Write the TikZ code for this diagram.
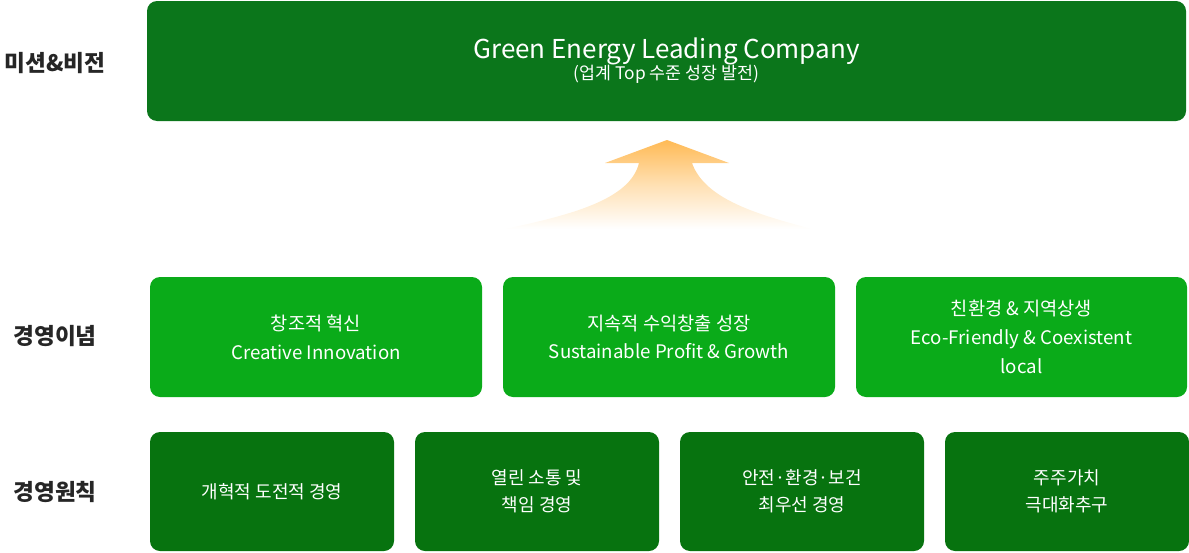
\documentclass[tikz,border=0pt]{standalone}
\usepackage{fontspec}
\setmainfont{Noto Sans CJK KR}
\begin{document}
\begin{tikzpicture}[x=0.75pt,y=-0.75pt,
  box/.style={rounded corners=7.5pt,text=white,align=center,inner sep=0pt},
  lab/.style={font=\bfseries\fontsize{17}{20}\selectfont,text=black!85,anchor=center}]
\definecolor{gtop}{HTML}{0B761B}
\definecolor{gmid}{HTML}{0AAB19}
\definecolor{gbot}{HTML}{07730F}
\definecolor{org}{HTML}{FFBA55}
\useasboundingbox (0,0) rectangle (1189,553);
\fill[gtop,rounded corners=7.5pt] (147,1) rectangle (1186,121);
\node[box] (top) at (666.5,61) {{\fontsize{19.5}{26}\selectfont Green Energy Leading Company}\\[-1pt]{\fontsize{13}{17}\selectfont (업계 Top 수준 성장 발전)}};
\shade[top color=org,bottom color=white,middle color=org!45]
  (667,140) -- (729,163) -- (692,163) .. controls (705,200) and (760,215) .. (812,229)
  -- (505,229) .. controls (570,215) and (630,200) .. (639,163) -- (605,163) -- cycle;
\node[lab] (l1) at (55,63) {미션\&비전};
\node[lab] (l2) at (55,336) {경영이념};
\node[lab] (l3) at (55,492) {경영원칙};
\tikzset{mt/.style={box,fill=gmid,minimum width=332*0.75pt,minimum height=120*0.75pt,font=\fontsize{14}{21.5}\selectfont}}
\node[mt] (m1) at (316,337) {창조적 혁신\\Creative Innovation};
\node[mt] (m2) at (669,337) {지속적 수익창출 성장\\Sustainable Profit \& Growth};
\node[mt,minimum width=331*0.75pt] (m3) at (1021.5,337) {친환경 \& 지역상생\\Eco-Friendly \& Coexistent\\local};
\tikzset{bt/.style={box,fill=gbot,minimum width=244*0.75pt,minimum height=119*0.75pt,font=\fontsize{13.5}{20.5}\selectfont}}
\node[bt] (b1) at (272,491.5) {개혁적 도전적 경영};
\node[bt] (b2) at (537,491.5) {열린 소통 및\\책임 경영};
\node[bt] (b3) at (802,491.5) {안전·환경·보건\\최우선 경영};
\node[bt] (b4) at (1067,491.5) {주주가치\\극대화추구};
\end{tikzpicture}
\end{document}
